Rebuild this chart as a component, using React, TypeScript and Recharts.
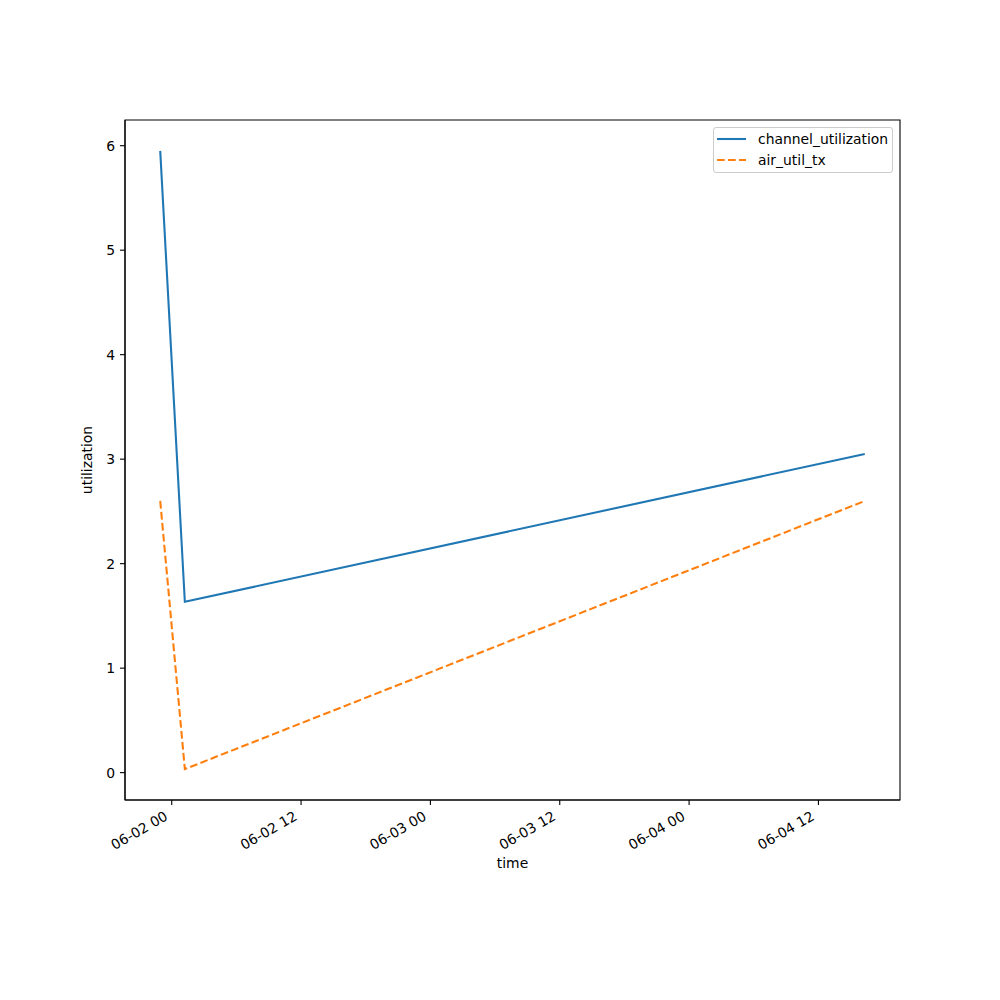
import React from 'react';
import { LineChart, Line, XAxis, YAxis, Legend, ReferenceArea } from 'recharts';

// sample times (MM-DD HH:mm) and readings
const times = ['06-01 22:56', '06-02 01:13', '06-04 16:18'];
const channelUtilization = [5.95, 1.635, 3.05];
const airUtilTx = [2.6, 0.034, 2.6];

const xTicks = [0, 12, 24, 36, 48, 60];
const xTickLabels = ['06-02 00', '06-02 12', '06-03 00', '06-03 12', '06-04 00', '06-04 12'];
const yTicks = [0, 1, 2, 3, 4, 5, 6];

const BLUE = '#1f77b4';
const ORANGE = '#ff7f0e';
const FONT = '"DejaVu Sans", sans-serif';
const DASH = '7.7 3.3';

// hours relative to 06-02 00:00
const toHours = (s: string) => {
  const [md, hm] = s.split(' ');
  const day = Number(md.split('-')[1]);
  const [h, m] = hm.split(':').map(Number);
  return (day - 2) * 24 + h + m / 60;
};

const data = times.map((t, i) => ({
  t: toHours(t),
  channel_utilization: channelUtilization[i],
  air_util_tx: airUtilTx[i],
}));

// matplotlib-style 5% padding
const pad = (vals: number[]) => {
  const lo = Math.min(...vals);
  const hi = Math.max(...vals);
  const m = (hi - lo) * 0.05;
  return [lo - m, hi + m];
};
const xDomain = pad(data.map((d) => d.t));
const yDomain = pad([...channelUtilization, ...airUtilTx]);

const XTick = (props: any) => {
  const { x, y, payload } = props;
  const idx = xTicks.indexOf(payload.value);
  const tx = x - 3;
  const ty = y + 14;
  return (
    <text
      x={tx}
      y={ty}
      textAnchor="end"
      fontSize={13.9}
      fontFamily={FONT}
      fill="#000"
      transform={`rotate(-30, ${tx}, ${ty})`}
    >
      {idx >= 0 ? xTickLabels[idx] : ''}
    </text>
  );
};

const LegendBox = () => (
  <div
    style={{
      width: 180,
      height: 46,
      boxSizing: 'border-box',
      border: '1px solid #cccccc',
      borderRadius: 3,
      background: 'rgba(255,255,255,0.8)',
    }}
  >
    <svg width={178} height={44} style={{ display: 'block' }}>
      <line x1={3} x2={32} y1={11} y2={11} stroke={BLUE} strokeWidth={2.08} />
      <text x={44} y={16} fontSize={13.9} fontFamily={FONT} fill="#000">channel_utilization</text>
      <line x1={3} x2={32} y1={32} y2={32} stroke={ORANGE} strokeWidth={2.08} strokeDasharray={DASH} />
      <text x={44} y={37} fontSize={13.9} fontFamily={FONT} fill="#000">air_util_tx</text>
    </svg>
  </div>
);

export default function App() {
  return (
    <div style={{ width: 1000, height: 1000, background: '#fff' }}>
      <style>{`body{margin:0}`}</style>
      <LineChart
        width={1000}
        height={1000}
        data={data}
        margin={{ top: 120, right: 100, left: 65, bottom: 140 }}
      >
        <XAxis
          dataKey="t"
          type="number"
          domain={xDomain}
          ticks={xTicks}
          allowDataOverflow
          height={60}
          tickSize={5}
          tickMargin={0}
          stroke="#000"
          strokeWidth={1.1}
          tick={<XTick />}
          tickLine={{ stroke: '#000', strokeWidth: 1.1 }}
          label={{
            content: (p: any) => {
              const vb = p.viewBox;
              return (
                <text x={vb.x + vb.width / 2} y={vb.y + 68} textAnchor="middle" fontSize={13.9} fontFamily={FONT} fill="#000">
                  time
                </text>
              );
            },
          }}
        />
        <YAxis
          type="number"
          domain={yDomain}
          ticks={yTicks}
          allowDataOverflow
          width={60}
          tickSize={5}
          tickMargin={5}
          stroke="#000"
          strokeWidth={1.1}
          tick={{ fill: '#000', fontSize: 13.9, fontFamily: FONT }}
          tickLine={{ stroke: '#000', strokeWidth: 1.1 }}
          label={{
            content: (p: any) => {
              const vb = p.viewBox;
              const lx = 92;
              const ly = vb.y + vb.height / 2;
              return (
                <text x={lx} y={ly} textAnchor="middle" fontSize={13.9} fontFamily={FONT} fill="#000" transform={`rotate(-90, ${lx}, ${ly})`}>
                  utilization
                </text>
              );
            },
          }}
        />
        <ReferenceArea
          x1={xDomain[0]}
          x2={xDomain[1]}
          y1={yDomain[0]}
          y2={yDomain[1]}
          fill="none"
          stroke="#000"
          strokeWidth={1.1}
          ifOverflow="visible"
        />
        <Line
          dataKey="channel_utilization"
          type="linear"
          stroke={BLUE}
          strokeWidth={2.08}
          dot={false}
          activeDot={false}
          isAnimationActive={false}
        />
        <Line
          dataKey="air_util_tx"
          type="linear"
          stroke={ORANGE}
          strokeWidth={2.08}
          strokeDasharray={DASH}
          dot={false}
          activeDot={false}
          isAnimationActive={false}
        />
        <Legend
          layout="vertical"
          align="center"
          verticalAlign="middle"
          wrapperStyle={{ left: 713, top: 127, width: 180 }}
          content={<LegendBox />}
        />
      </LineChart>
    </div>
  );
}
